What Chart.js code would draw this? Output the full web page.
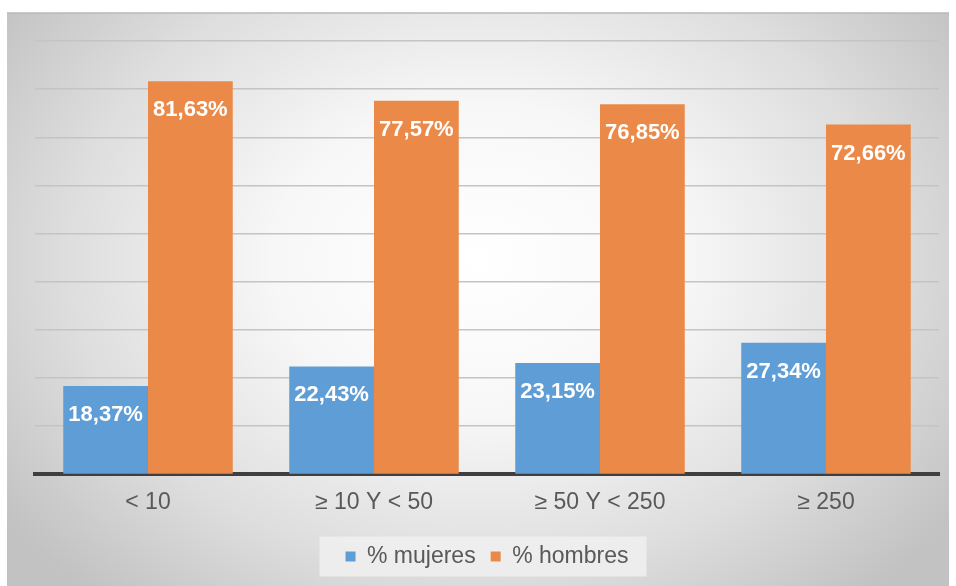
<!DOCTYPE html>
<html>
<head>
<meta charset="utf-8">
<script src="https://cdn.jsdelivr.net/npm/chart.js@4"></script>
<style>
  html, body { margin: 0; padding: 0; background: #ffffff; }
  canvas { display: block; }
</style>
</head>
<body>
<canvas id="c" width="956" height="586"></canvas>
<script>
// Company size bands and share of women / men in each
const categories = ['< 10', '\u2265 10 Y < 50', '\u2265 50 Y < 250', '\u2265 250'];
const mujeres = [18.37, 22.43, 23.15, 27.34];
const hombres = [81.63, 77.57, 76.85, 72.66];
const seriesNames = ['% mujeres', '% hombres'];

const FONT = '"Liberation Sans", Arial, sans-serif';

const fmt = v => v.toFixed(2).replace('.', ',') + '%';

// Panel background: soft radial gradient with a thin top rule, plus a pale box behind the legend
const backgroundPlugin = {
  id: 'panelBackground',
  beforeDraw(chart) {
    const ctx = chart.ctx;
    const W = chart.width, H = chart.height;
    const x0 = 7, y0 = 13, x1 = 949, y1 = H;
    ctx.save();
    ctx.fillStyle = '#ffffff';
    ctx.fillRect(0, 0, W, H);
    const cx = (x0 + x1) / 2, cy = (y0 + y1) / 2 - 40;
    const w = x1 - x0, h = y1 - y0;
    ctx.save();
    ctx.beginPath();
    ctx.rect(x0, y0, w, h);
    ctx.clip();
    ctx.translate(cx, cy);
    ctx.scale(1, h / w * 1.25);
    const r = w * 0.62;
    const g = ctx.createRadialGradient(0, 0, 0, 0, 0, r);
    g.addColorStop(0, '#ffffff');
    g.addColorStop(0.35, '#f7f7f7');
    g.addColorStop(0.7, '#dedede');
    g.addColorStop(1, '#c2c2c2');
    ctx.fillStyle = g;
    ctx.fillRect(-r * 1.5, -r * 1.5, r * 3, r * 3);
    ctx.restore();
    ctx.strokeStyle = '#b8b8b8';
    ctx.lineWidth = 1.5;
    ctx.beginPath();
    ctx.moveTo(x0, y0);
    ctx.lineTo(x1, y0);
    ctx.stroke();

    const boxes = chart.legend && chart.legend.legendHitBoxes;
    if (boxes && boxes.length) {
      const left = Math.min(...boxes.map(b => b.left)) - 26;
      const right = Math.max(...boxes.map(b => b.left + b.width)) + 18;
      const mid = boxes[0].top + boxes[0].height / 2;
      ctx.fillStyle = 'rgba(240,240,240,0.85)';
      ctx.fillRect(left, mid - 20, right - left, 40);
    }
    ctx.restore();
  }
};

// White value labels placed inside the top of each bar
const valueLabelPlugin = {
  id: 'valueLabels',
  afterDatasetsDraw(chart) {
    const ctx = chart.ctx;
    ctx.save();
    ctx.font = 'bold 22px ' + FONT;
    ctx.fillStyle = '#ffffff';
    ctx.textAlign = 'center';
    ctx.textBaseline = 'middle';
    chart.data.datasets.forEach((ds, di) => {
      const meta = chart.getDatasetMeta(di);
      meta.data.forEach((bar, i) => {
        ctx.fillText(fmt(ds.data[i]), bar.x, bar.y + 29);
      });
    });
    ctx.restore();
  }
};

new Chart(document.getElementById('c'), {
  type: 'bar',
  data: {
    labels: categories,
    datasets: [
      { label: seriesNames[0], data: mujeres, backgroundColor: '#5f9dd6', borderWidth: 0 },
      { label: seriesNames[1], data: hombres, backgroundColor: '#eb8a48', borderWidth: 0 }
    ]
  },
  options: {
    responsive: false,
    devicePixelRatio: 1,
    animation: false,
    layout: { padding: { left: 35, right: 17, top: 41, bottom: 8 } },
    datasets: { bar: { categoryPercentage: 0.75, barPercentage: 1.0 } },
    scales: {
      x: {
        grid: { display: false, drawTicks: false },
        border: { display: true, color: '#3f3f3f', width: 4 },
        ticks: { color: '#595959', font: { family: FONT, size: 23 }, padding: 14 }
      },
      y: {
        min: 0, max: 90,
        ticks: { display: false, stepSize: 10 },
        border: { display: false },
        grid: { color: '#c4c4c4', lineWidth: 1.5, drawTicks: false }
      }
    },
    plugins: {
      tooltip: { enabled: false },
      legend: {
        position: 'bottom',
        labels: {
          color: '#595959',
          font: { family: FONT, size: 23 },
          boxWidth: 10, boxHeight: 10,
          padding: 15
        }
      }
    }
  },
  plugins: [backgroundPlugin, valueLabelPlugin]
});
</script>
</body>
</html>
